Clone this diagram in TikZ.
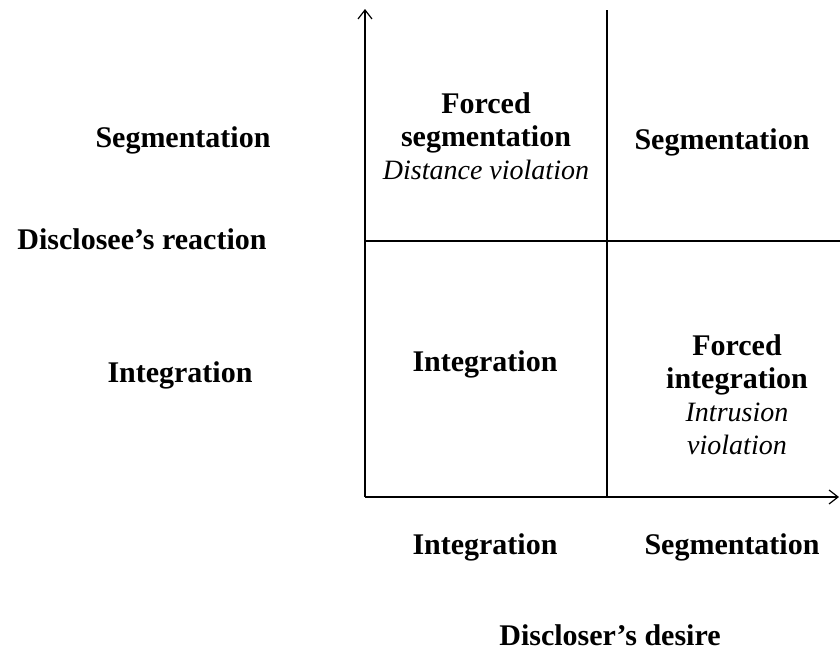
\documentclass[tikz,border=0pt]{standalone}
\usepackage{fontspec}
\setmainfont{Liberation Serif}
\usetikzlibrary{arrows.meta}
\newcommand{\itl}{\fontsize{28}{33}\selectfont\normalfont\itshape}
\begin{document}
\begin{tikzpicture}[x=1pt,y=-1pt,
  lbl/.style={font=\fontsize{30}{33}\selectfont\bfseries, align=center, inner sep=0pt},
  ax/.style={line width=1.4pt, -{Straight Barb[length=9pt,width=14pt,line width=1.2pt]}},
  ln/.style={line width=1.4pt}]
\useasboundingbox (0,0) rectangle (840,653);
\coordinate (o) at (365,497);
\coordinate (ytop) at (365,9);
\coordinate (xend) at (839,497);
\coordinate (vt) at (607,10);
\coordinate (vb) at (607,497);
\coordinate (hl) at (365,241);
\coordinate (hr) at (840,241);
\draw[ax] (o) -- (ytop);
\draw[ax] (o) -- (xend);
\draw[ln] (vt) -- (vb);
\draw[ln] (hl) -- (hr);
\node[lbl] (lseg) at (183,140) {Segmentation};
\node[lbl] (lreact) at (142,239) {Disclosee's reaction};
\node[lbl] (lint) at (180,375) {Integration};
\node[lbl] (q1) at (486,136) {Forced\\segmentation\\\itl Distance violation};
\node[lbl] (q2) at (722,142) {Segmentation};
\node[lbl] (q3) at (485,364) {Integration};
\node[lbl] (q4) at (737,395) {Forced\\integration\\\itl Intrusion\\\itl violation};
\node[lbl] (bint) at (485,547) {Integration};
\node[lbl] (bseg) at (732,547) {Segmentation};
\node[lbl] (bdes) at (610,635) {Discloser's desire};
\end{tikzpicture}
\end{document}
